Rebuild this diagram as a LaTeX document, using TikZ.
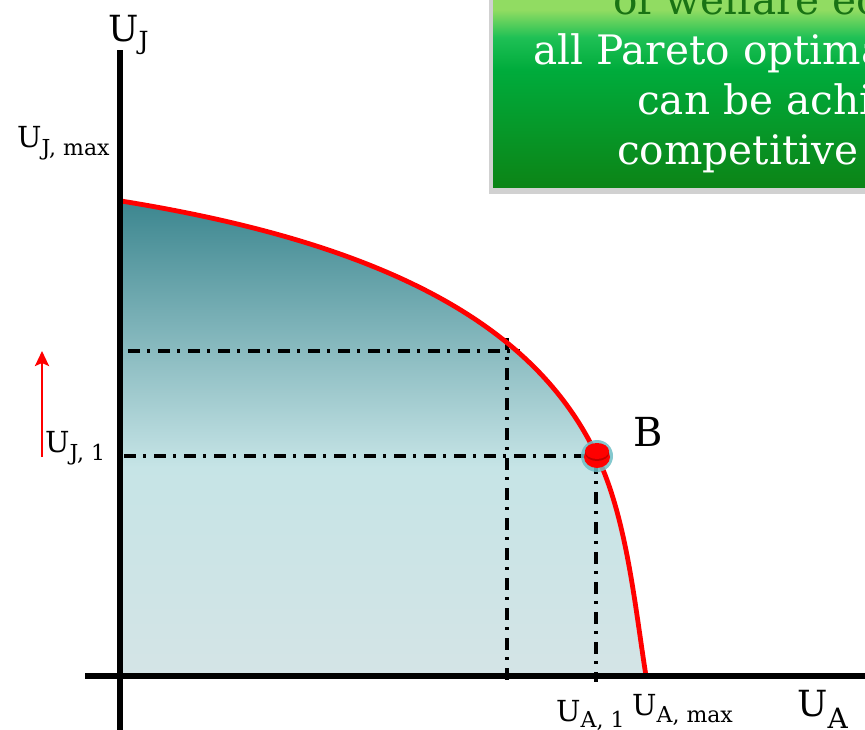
\documentclass[tikz,border=0pt]{standalone}
\usepackage{fontspec}
\setmainfont{DejaVu Serif}
\usetikzlibrary{arrows.meta}
\definecolor{tealtop}{RGB}{60,134,143}
\definecolor{tealmid}{RGB}{198,228,230}
\definecolor{tealbot}{RGB}{212,228,230}
\definecolor{gtop}{RGB}{145,220,98}
\definecolor{gup}{RGB}{30,192,85}
\definecolor{gmid}{RGB}{0,172,60}
\definecolor{gbot}{RGB}{12,132,22}
\definecolor{gtext}{RGB}{25,115,20}
\definecolor{dotring}{RGB}{110,190,198}
\pgfdeclareverticalshading{boxgrad}{100bp}{color(0bp)=(gbot); color(25bp)=(gbot); color(55bp)=(gmid); color(63bp)=(gup); color(70bp)=(gtop); color(100bp)=(gtop)}
\pgfdeclareverticalshading{fillgrad}{100bp}{color(0bp)=(tealbot); color(25bp)=(tealbot); color(47bp)=(tealmid); color(75bp)=(tealtop); color(100bp)=(tealtop)}
\tikzset{
  axisline/.style={line width=5.5pt,black},
  frontier/.style={line width=4.8pt,red,line cap=round},
  guide/.style={line width=3.1pt,black,dash pattern=on 12pt off 7pt on 3pt off 8pt},
  boxtext/.style={anchor=base west,inner sep=0pt,font=\fontsize{40.6}{40.6}\selectfont},
  biglab/.style={anchor=base west,inner sep=0pt,font=\fontsize{36}{36}\selectfont},
  smalllab/.style={anchor=base west,inner sep=0pt,font=\fontsize{29}{29}\selectfont}
}
\newcommand{\sbx}[3]{\raisebox{-#1pt}{\fontsize{#2}{#2}\selectfont #3}}
\begin{document}
\begin{tikzpicture}[x=1pt,y=-1pt]
\useasboundingbox (0,0) rectangle (865,730);
\clip (0,0) rectangle (865,730);
% frontier corner points
\coordinate (P0) at (121,201);
\coordinate (PB) at (597,456);
\coordinate (P1) at (646,676);
\coordinate (O) at (121,676);
% shaded feasible region
\shade[shading=fillgrad]
  (P0) .. controls (401,246) and (539,333) .. (PB)
       .. controls (627,519) and (635,607) .. (P1) -- (O) -- cycle;
% guide lines
\coordinate (h1a) at (128,351); \coordinate (h1b) at (520,351);
\coordinate (v1a) at (507,338); \coordinate (v1b) at (507,680);
\coordinate (h2a) at (124,456); \coordinate (h2b) at (592,456);
\coordinate (v2a) at (596,462); \coordinate (v2b) at (596,682);
\draw[guide] (h1a) -- (h1b);
\draw[guide] (v1a) -- (v1b);
\draw[guide] (h2a) -- (h2b);
\draw[guide] (v2a) -- (v2b);
% frontier
\draw[frontier]
  (P0) .. controls (401,246) and (539,333) .. (PB)
       .. controls (627,519) and (635,607) .. (P1);
% axes
\coordinate (yb) at (120,730); \coordinate (yt) at (120,50);
\coordinate (xl) at (85,676); \coordinate (xr) at (865,676);
\draw[axisline] (yb) -- (yt);
\draw[axisline] (xl) -- (xr);
% point B
\fill[dotring, opacity=0.85] (PB) circle (16);
\fill[red] ([yshift=-1pt]PB) ellipse (13 and 11);
\fill[red!75!black] ([yshift=3pt]PB) ellipse (12 and 8);
\fill[red] ([yshift=5pt]PB) ellipse (12 and 8);
\node[biglab, font=\fontsize{40}{40}\selectfont] (B) at (633,446) {B};
% red arrow
\coordinate (ra) at (42,457); \coordinate (rb) at (42,351);
\draw[red, line width=2.6pt, -{Stealth[length=15pt,width=14pt,inset=3pt]}] (ra) -- (rb);
% labels
\node[biglab] (UJ) at (108,42) {U\sbx{8}{25}{J}};
\node[smalllab] (UJmax) at (17,148) {U\sbx{8}{22}{J, max}};
\node[smalllab] (UJ1) at (45,452) {U\sbx{8}{22}{J, 1}};
\node[smalllab] (UA1) at (556,721) {U\sbx{6}{22}{A, 1}};
\node[smalllab] (UAmax) at (632,715) {U\sbx{7}{22}{A, max}};
\node[biglab] (UA) at (797,716) {U\sbx{12}{28}{A}};
% green box
\fill[black, opacity=0.18] (489,-10) rectangle (900,194);
\shade[shading=boxgrad] (493,-10) rectangle (900,188);
\node[boxtext, text=gtext] (t1) at (613,15) {of welfare ec};
\node[boxtext, text=white] (t2) at (533,65) {all Pareto optima};
\node[boxtext, text=white] (t3) at (637,115) {can be achi};
\node[boxtext, text=white] (t4) at (617,165) {competitive};
\end{tikzpicture}
\end{document}
